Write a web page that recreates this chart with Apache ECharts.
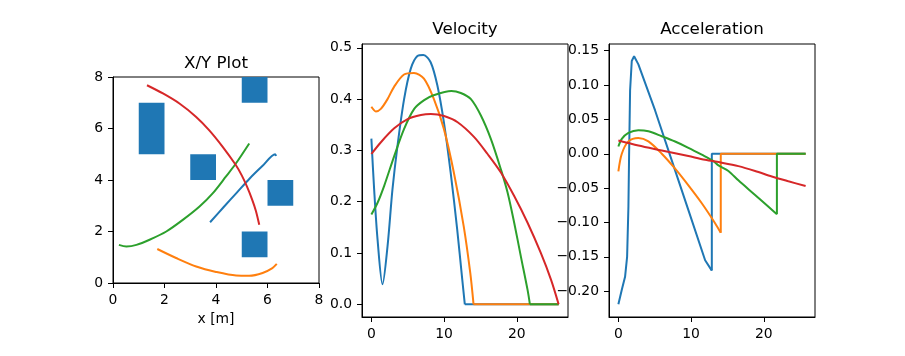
<!DOCTYPE html>
<html><head><meta charset="utf-8">
<script src="https://cdn.jsdelivr.net/npm/echarts@6/dist/echarts.min.js"></script>
<style>html,body{margin:0;padding:0;background:#fff}#c{width:905px;height:356px}</style>
</head><body><div id="c"></div><script>
// ---------- data ----------
const colors = ['#1f77b4', '#ff7f0e', '#2ca02c', '#d62728'];
const titles = ['X/Y Plot', 'Velocity', 'Acceleration'];
const xyTickVals = [0, 2, 4, 6, 8];
const timeTickVals = [0, 10, 20];
const velTickVals = [0, 0.1, 0.2, 0.3, 0.4, 0.5];
const accTickVals = [-0.20, -0.15, -0.10, -0.05, 0.00, 0.05, 0.10, 0.15];

// obstacles (x, y, width, height) in metres
const obsX = [1, 5, 3, 6, 5];
const obsY = [5, 7, 4, 3, 1];
const obsW = [1, 1, 1, 1, 1];
const obsH = [2, 1, 1, 1, 1];

// X/Y paths
const pathBlueX   = [3.77, 4.30, 4.80, 5.30, 5.80, 6.30, 6.33];
const pathBlueY   = [2.36, 2.95, 3.50, 4.05, 4.54, 5.00, 4.93];
const pathOrangeX = [1.72, 2.45, 3.23, 4.00, 4.78, 5.29, 5.81, 6.19, 6.36];
const pathOrangeY = [1.32, 0.97, 0.64, 0.43, 0.29, 0.28, 0.39, 0.58, 0.74];
const pathGreenX  = [0.23, 0.52, 0.91, 1.42, 2.07, 2.71, 3.36, 3.87, 4.39, 4.75, 5.29];
const pathGreenY  = [1.48, 1.42, 1.48, 1.68, 2.00, 2.45, 2.97, 3.48, 4.14, 4.61, 5.42];
const pathRedX    = [1.32, 1.94, 2.58, 3.23, 3.74, 4.26, 4.75, 5.00, 5.20, 5.40, 5.55, 5.68];
const pathRedY    = [7.68, 7.36, 6.97, 6.45, 5.93, 5.29, 4.61, 4.18, 3.75, 3.25, 2.80, 2.26];

// time axis end
const tEnd = 25.75;

// velocity profiles
const velBlueT   = [0, 0.38, 0.85, 1.53, 2.22, 2.90, 3.59, 4.50, 5.41, 6.33, 7.15, 8.15, 9.07, 9.97, 10.9, 11.8, 12.5, 12.85];
const velBlueV   = [0.323, 0.224, 0.126, 0.039, 0.113, 0.224, 0.309, 0.400, 0.459, 0.484, 0.486, 0.472, 0.427, 0.355, 0.257, 0.146, 0.048, 0];
const velOrangeT = [0, 0.62, 1.30, 2.22, 3.12, 4.49, 5.86, 7.23, 8.60, 9.97, 11.34, 12.7, 13.6, 14.05];
const velOrangeV = [0.385, 0.376, 0.381, 0.400, 0.424, 0.448, 0.451, 0.440, 0.400, 0.342, 0.257, 0.152, 0.061, 0];
const velGreenT  = [0, 0.85, 1.76, 3.14, 4.50, 5.89, 7.26, 8.64, 11.0, 12.3, 13.69, 15.06, 16.44, 17.81, 18.73, 19.64, 20.56, 21.48, 21.8];
const velGreenV  = [0.175, 0.198, 0.231, 0.289, 0.342, 0.381, 0.398, 0.408, 0.416, 0.412, 0.400, 0.368, 0.322, 0.263, 0.218, 0.159, 0.093, 0.028, 0];
const velRedT    = [0, 1.31, 3.14, 4.98, 6.81, 8.18, 10.0, 11.86, 14.14, 15.98, 17.81, 19.64, 21.48, 23.3, 24.7, 25.75];
const velRedV    = [0.293, 0.316, 0.343, 0.361, 0.369, 0.371, 0.367, 0.355, 0.326, 0.293, 0.257, 0.211, 0.159, 0.100, 0.048, 0];

// acceleration profiles (last point = moment of the jump to zero)
const accBlueT   = [0, 0.47, 0.92, 1.20, 1.38, 1.47, 1.61, 1.84, 2.16, 2.75, 5.05, 7.34, 9.63, 11.93, 12.85];
const accBlueA   = [-0.219, -0.198, -0.179, -0.150, -0.077, -0.005, 0.092, 0.135, 0.142, 0.130, 0.063, -0.0097, -0.082, -0.155, -0.170];
const accOrangeT = [0, 0.47, 1.38, 2.75, 4.13, 5.97, 7.80, 9.63, 11.47, 13.3, 14.08];
const accOrangeA = [-0.0256, 0, 0.018, 0.023, 0.018, 0, -0.0217, -0.046, -0.072, -0.101, -0.115];
const accGreenT  = [0, 0.47, 1.38, 2.75, 4.13, 5.97, 7.80, 9.63, 11.47, 13.07, 13.76, 15.13, 16.5, 18.8, 21.8];
const accGreenA  = [0.0106, 0.0217, 0.0304, 0.0342, 0.0327, 0.0255, 0.0178, 0.0087, -0.0014, -0.0107, -0.017, -0.025, -0.0387, -0.060, -0.088];
const accRedT    = [0, 2.75, 5.97, 9.63, 11.93, 14.22, 16.5, 18.8, 21.1, 23.38, 25.75];
const accRedA    = [0.0193, 0.012, 0.0048, -0.0034, -0.0087, -0.013, -0.018, -0.025, -0.033, -0.040, -0.047];

// ---------- build ----------
const FONT = 'DejaVu Sans';
const zip = (a, b) => a.map((v, i) => [v, b[i]]);

function axisCommon(extra) {
  return Object.assign({
    type: 'value',
    splitLine: { show: false },
    axisLine: { show: true, onZero: false, lineStyle: { color: '#000', width: 1 } },
    axisTick: { show: true, inside: false, length: 5, lineStyle: { color: '#000', width: 1 } },
    axisLabel: { color: '#000', fontFamily: FONT, fontSize: 13.9, margin: 10 }
  }, extra);
}
function customAxis(vals, fmt, extra) {
  const a = axisCommon(extra);
  a.axisTick.customValues = vals;
  a.axisLabel.customValues = vals;
  a.axisLabel.formatter = fmt;
  return a;
}
const fmtAcc = v => (v < -1e-9 ? '\u2212' : '') + Math.abs(v).toFixed(2);

function lineSeries(data, color, xi, smooth) {
  return {
    type: 'line', xAxisIndex: xi, yAxisIndex: xi, data: data,
    showSymbol: false, symbol: 'none', smooth: smooth,
    lineStyle: { color: color, width: 2 }, itemStyle: { color: color },
    animation: false, silent: true, z: 3
  };
}

const series = [];
// obstacles
series.push({
  type: 'custom', xAxisIndex: 0, yAxisIndex: 0, z: 2, silent: true, animation: false,
  data: obsX.map((x, i) => [x, obsY[i], obsW[i], obsH[i]]),
  encode: { x: 0, y: 1 },
  renderItem: function (params, api) {
    const x = api.value(0), y = api.value(1), w = api.value(2), h = api.value(3);
    const p0 = api.coord([x, y + h]);
    const p1 = api.coord([x + w, y]);
    return { type: 'rect', shape: { x: p0[0], y: p0[1], width: p1[0] - p0[0], height: p1[1] - p0[1] },
             style: { fill: colors[0] } };
  }
});
// paths
[[pathBlueX, pathBlueY], [pathOrangeX, pathOrangeY], [pathGreenX, pathGreenY], [pathRedX, pathRedY]]
  .forEach((p, i) => series.push(lineSeries(zip(p[0], p[1]), colors[i], 0, 0.3)));

// velocity
[[velBlueT, velBlueV], [velOrangeT, velOrangeV], [velGreenT, velGreenV], [velRedT, velRedV]]
  .forEach((p, i) => {
    series.push(lineSeries(zip(p[0], p[1]), colors[i], 1, 0.3));
    const lastT = p[0][p[0].length - 1];
    if (lastT < tEnd) series.push(lineSeries([[lastT, 0], [tEnd, 0]], colors[i], 1, false));
  });

// acceleration
[[accBlueT, accBlueA], [accOrangeT, accOrangeA], [accGreenT, accGreenA], [accRedT, accRedA]]
  .forEach((p, i) => {
    series.push(lineSeries(zip(p[0], p[1]), colors[i], 2, i === 0 ? false : 0.3));
    const n = p[0].length;
    const lastT = p[0][n - 1], lastA = p[1][n - 1];
    if (lastT < tEnd) series.push(lineSeries([[lastT, lastA], [lastT, 0], [tEnd, 0]], colors[i], 2, false));
  });

const gridBox = { show: true, borderColor: '#000', borderWidth: 1, backgroundColor: 'transparent', containLabel: false };
const titleStyle = { fontFamily: FONT, fontSize: 16.7, fontWeight: 'normal', color: '#000' };

const option = {
  animation: false,
  backgroundColor: '#fff',
  title: [
    { text: titles[0], left: 216, top: 55, textAlign: 'center', padding: 0, textStyle: titleStyle },
    { text: titles[1], left: 465, top: 21, textAlign: 'center', padding: 0, textStyle: titleStyle },
    { text: titles[2], left: 712, top: 21, textAlign: 'center', padding: 0, textStyle: titleStyle }
  ],
  grid: [
    Object.assign({ left: 113, top: 77, width: 206, height: 206 }, gridBox),
    Object.assign({ left: 362, top: 44, width: 206, height: 273 }, gridBox),
    Object.assign({ left: 609, top: 44, width: 206, height: 273 }, gridBox)
  ],
  xAxis: [
    axisCommon({ gridIndex: 0, min: 0, max: 8, interval: 2,
      name: 'x [m]', nameLocation: 'middle', nameGap: 29,
      nameTextStyle: { color: '#000', fontFamily: FONT, fontSize: 13.9 } }),
    customAxis(timeTickVals, v => String(v), { gridIndex: 1, min: -1.29, max: 27.04 }),
    customAxis(timeTickVals, v => String(v), { gridIndex: 2, min: -1.29, max: 27.04 })
  ],
  yAxis: [
    axisCommon({ gridIndex: 0, min: 0, max: 8, interval: 2 }),
    customAxis(velTickVals, v => v.toFixed(1), { gridIndex: 1, min: -0.0248, max: 0.5075 }),
    customAxis(accTickVals, fmtAcc, { gridIndex: 2, min: -0.2375, max: 0.1597 })
  ],
  series: series
};

const chart = echarts.init(document.getElementById('c'), null, { renderer: 'canvas' });
chart.setOption(option);
</script></body></html>
